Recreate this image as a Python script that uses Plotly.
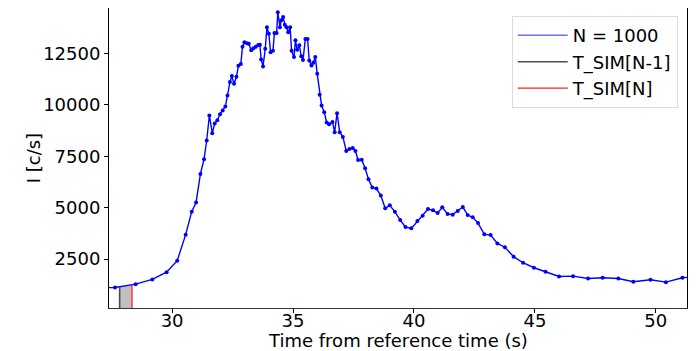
import numpy as np
import plotly.graph_objects as go

# Light curve: time from reference time (s) and count rate (c/s)
time_s = [27.20, 27.64, 28.49, 29.18, 29.77, 30.21, 30.56, 30.81, 30.99, 31.17, 31.32,
          31.43, 31.54, 31.66, 31.76, 31.87, 31.98, 32.09, 32.20, 32.29, 32.39,
          32.47, 32.56, 32.66, 32.74, 32.84, 32.91, 32.99, 33.09, 33.17, 33.27,
          33.36, 33.46, 33.56, 33.63, 33.68, 33.76, 33.85, 33.92, 34.00, 34.07,
          34.17, 34.23, 34.32, 34.37, 34.46, 34.51, 34.59, 34.66, 34.73, 34.80,
          34.88, 34.94, 35.04, 35.10, 35.17, 35.26, 35.34, 35.41, 35.51, 35.60,
          35.67, 35.76, 35.84, 35.92, 36.00, 36.10, 36.18, 36.29, 36.39, 36.49,
          36.63, 36.72, 36.82, 36.93, 37.06, 37.20, 37.33, 37.47, 37.58, 37.69,
          37.84, 37.98, 38.12, 38.28, 38.45, 38.63, 38.81, 39.00, 39.21, 39.43,
          39.65, 39.89, 40.14, 40.36, 40.58, 40.79, 40.98, 41.17, 41.39, 41.60,
          41.81, 42.02, 42.22, 42.43, 42.65, 42.91, 43.17, 43.45, 43.76, 44.12,
          44.51, 44.96, 45.44, 46.00, 46.58, 47.20, 47.80, 48.45, 49.07, 49.78,
          50.42, 51.10, 51.60]
rate_cps = [1110, 1122, 1283, 1512, 1867, 2422, 3688, 4808, 5246, 6638, 7354,
            8264, 9481, 8620, 9092, 9253, 9545, 9725, 9920, 10455, 11103,
            11395, 11020, 11361, 11896, 11979, 12821, 13035, 12987, 12967, 12646,
            12743, 12821, 12904, 12919, 12208, 11867, 12724, 13766, 13454, 12549,
            12627, 13488, 13488, 14496, 13766, 14107, 14267, 13892, 13766, 13522,
            13766, 12627, 12320, 13133, 12675, 12889, 12354, 12174, 13196, 13196,
            12159, 11915, 12042, 12320, 11507, 10484, 9968, 9642, 9141, 9058,
            9170, 8669, 9594, 8669, 8440, 7758, 7850, 7900, 7750, 7320,
            7330, 6916, 6380, 5976, 5927, 5587, 4968, 5114, 4808, 4399,
            4058, 3995, 4350, 4613, 4934, 4871, 4740, 5017, 4691, 4662,
            4837, 5032, 4642, 4530, 4253, 3703, 3668, 3264, 3077, 2617,
            2325, 2081, 1887, 1658, 1672, 1560, 1594, 1560, 1400, 1497,
            1380, 1594, 1640]

series_name = "N = 1000"
t_sim_prev = 27.83   # T_SIM[N-1]
t_sim_cur = 28.34    # T_SIM[N]

x_ticks = [30, 35, 40, 45, 50]
y_ticks = [2500, 5000, 7500, 10000, 12500]
x_title = "Time from reference time (s)"
y_title = "I [c/s]"

FONT = "DejaVu Sans"
FS = 18

fig = go.Figure()

# shaded region between the two simulation times, under the curve
fill_x = [t_sim_prev, t_sim_cur]
fill_y = list(np.interp(fill_x, time_s, rate_cps))
fig.add_trace(go.Scatter(
    x=[t_sim_prev] + fill_x + [t_sim_cur], y=[0] + fill_y + [0],
    mode="none", fill="toself", fillcolor="#c0c0c0", showlegend=False,
    hoverinfo="skip"))

# light curve
fig.add_trace(go.Scatter(
    x=time_s, y=rate_cps, mode="lines+markers",
    line=dict(color="#0000ff", width=1.4),
    marker=dict(color="#0000ff", size=4),
    showlegend=False, name=series_name))
fig.add_trace(go.Scatter(
    x=[None], y=[None], mode="lines", name=series_name,
    line=dict(color="#6f6fff", width=1.4)))

# vertical lines at T_SIM[N-1] and T_SIM[N]
prev_top = float(np.interp(t_sim_prev, time_s, rate_cps))
cur_top = float(np.interp(t_sim_cur, time_s, rate_cps))
fig.add_trace(go.Scatter(
    x=[t_sim_prev, t_sim_prev], y=[0, prev_top], mode="lines",
    name="T_SIM[N-1]", line=dict(color="#4d4d4d", width=1.6)))
fig.add_trace(go.Scatter(
    x=[t_sim_cur, t_sim_cur], y=[0, cur_top], mode="lines",
    name="T_SIM[N]", line=dict(color="#ff2020", width=1.3)))

fig.update_layout(
    width=696, height=351,
    margin=dict(l=101, r=17, t=0, b=51),
    paper_bgcolor="white", plot_bgcolor="white",
    font=dict(family=FONT, size=FS, color="black"),
    legend=dict(
        x=0.984, y=0.973, xanchor="right", yanchor="top",
        bgcolor="rgba(255,255,255,0.85)", bordercolor="#dcdcdc", borderwidth=1,
        font=dict(family=FONT, size=FS, color="black"),
        itemwidth=50, tracegroupgap=0),
    xaxis=dict(
        range=[27.39, 51.29], tickvals=x_ticks, ticktext=[str(v) for v in x_ticks],
        showgrid=False, zeroline=False, showline=True, linecolor="#333333", linewidth=1,
        ticks="outside", ticklen=4, tickcolor="black", tickfont=dict(size=FS),
        ticklabelstandoff=-8),
    yaxis=dict(
        range=[124, 14705], tickvals=y_ticks, ticktext=[str(v) for v in y_ticks],
        showgrid=False, zeroline=False, showline=True, linecolor="black", linewidth=1,
        mirror=True,
        ticks="outside", ticklen=4, tickcolor="black", tickfont=dict(size=FS)),
    annotations=[
        dict(text=x_title, xref="paper", yref="paper", x=0.5, y=-0.107,
             xanchor="center", yanchor="middle", showarrow=False,
             font=dict(family=FONT, size=FS, color="black")),
        dict(text=y_title, xref="paper", yref="paper", x=-0.131, y=0.5,
             xanchor="center", yanchor="middle", showarrow=False, textangle=-90,
             font=dict(family=FONT, size=FS, color="black")),
    ],
)

fig.write_html("out.html")
